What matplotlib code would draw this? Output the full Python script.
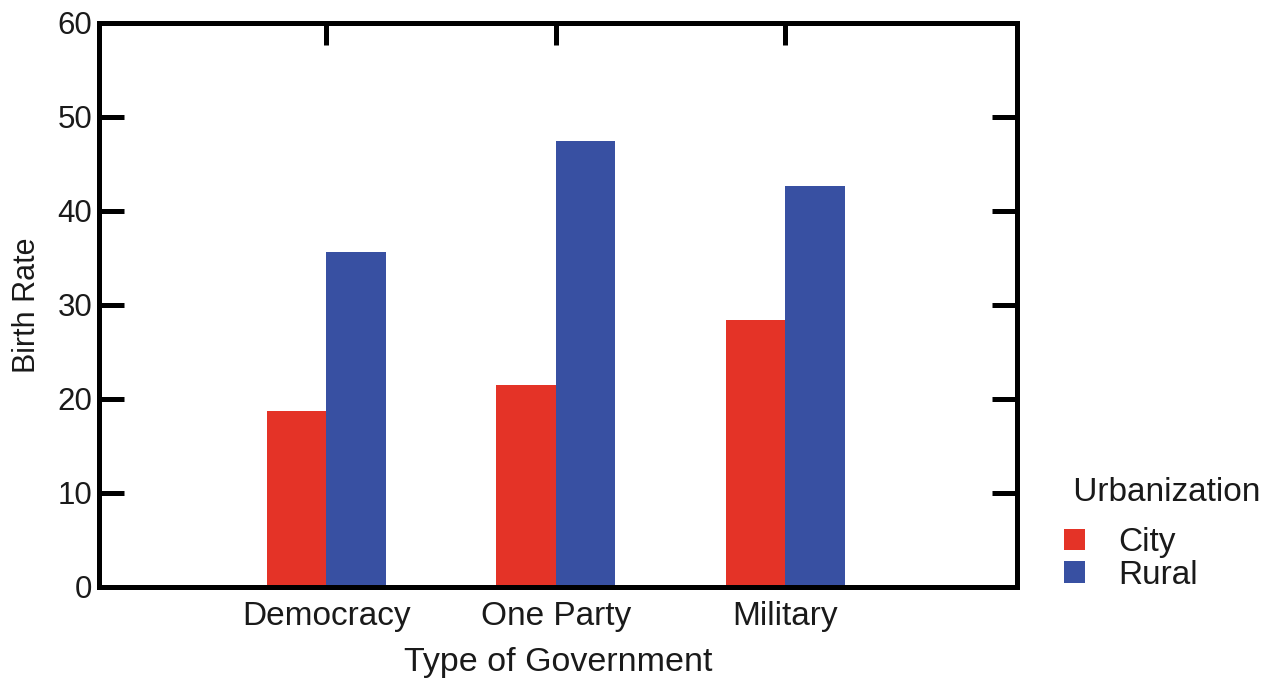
import matplotlib
matplotlib.use("Agg")
import matplotlib.pyplot as plt
import numpy as np
from matplotlib.patches import Patch

categories = ["Democracy", "One Party", "Military"]
series_names = ["City", "Rural"]
city = [18.7, 21.5, 28.4]
rural = [35.6, 47.4, 42.7]
colors = ["#E43327", "#3850A2"]
yticks = [0, 10, 20, 30, 40, 50, 60]

plt.rcParams['font.family'] = ['Liberation Sans', 'DejaVu Sans']
txt = "#1a1a1a"

fig = plt.figure(figsize=(12.72, 6.80), dpi=100)
ax = fig.add_axes([99/1272, 1-587/680, (1017-99)/1272, (587-23)/680])

x = np.arange(len(categories))
w = 0.26
ax.bar(x - w/2, city, width=w, color=colors[0], linewidth=0, zorder=1)
ax.bar(x + w/2, rural, width=w, color=colors[1], linewidth=0, zorder=1)

ax.set_xlim(-0.99, 3.01)
ax.set_ylim(0, 60)
ax.set_yticks(yticks)
ax.set_yticklabels([str(v) for v in yticks], fontsize=22.5, color=txt)
ax.set_xticks(x)
ax.set_xticklabels(categories, fontsize=24, color=txt)

lw = 3.6
for s in ax.spines.values():
    s.set_linewidth(lw)
    s.set_zorder(3)
ax.tick_params(axis='y', direction='in', length=18, width=lw, left=True, right=True,
               labelleft=True, labelright=False, pad=5)
ax.tick_params(axis='x', direction='in', length=16, width=lw, top=True, bottom=False,
               labelbottom=True, labeltop=False, pad=10)

ax.set_xlabel("Type of Government", fontsize=24.5, color=txt, labelpad=11)
ax.set_ylabel("Birth Rate", fontsize=22, color=txt, labelpad=11)

handles = [Patch(facecolor=colors[0], edgecolor='none'),
           Patch(facecolor=colors[1], edgecolor='none')]
leg = fig.legend(handles, series_names, title=" Urbanization",
                 loc='upper left', bbox_to_anchor=(1057/1272, 1-470/680),
                 frameon=False, fontsize=24, title_fontsize=24,
                 handlelength=0.65, handleheight=0.6, handletextpad=1.0,
                 labelspacing=0.05, borderpad=0.2, borderaxespad=0)
leg._legend_box.align = "left"
leg._legend_box.sep = 14
for t in leg.get_texts():
    t.set_color(txt)
leg.get_title().set_color(txt)

fig.savefig("out.png", dpi=100)
